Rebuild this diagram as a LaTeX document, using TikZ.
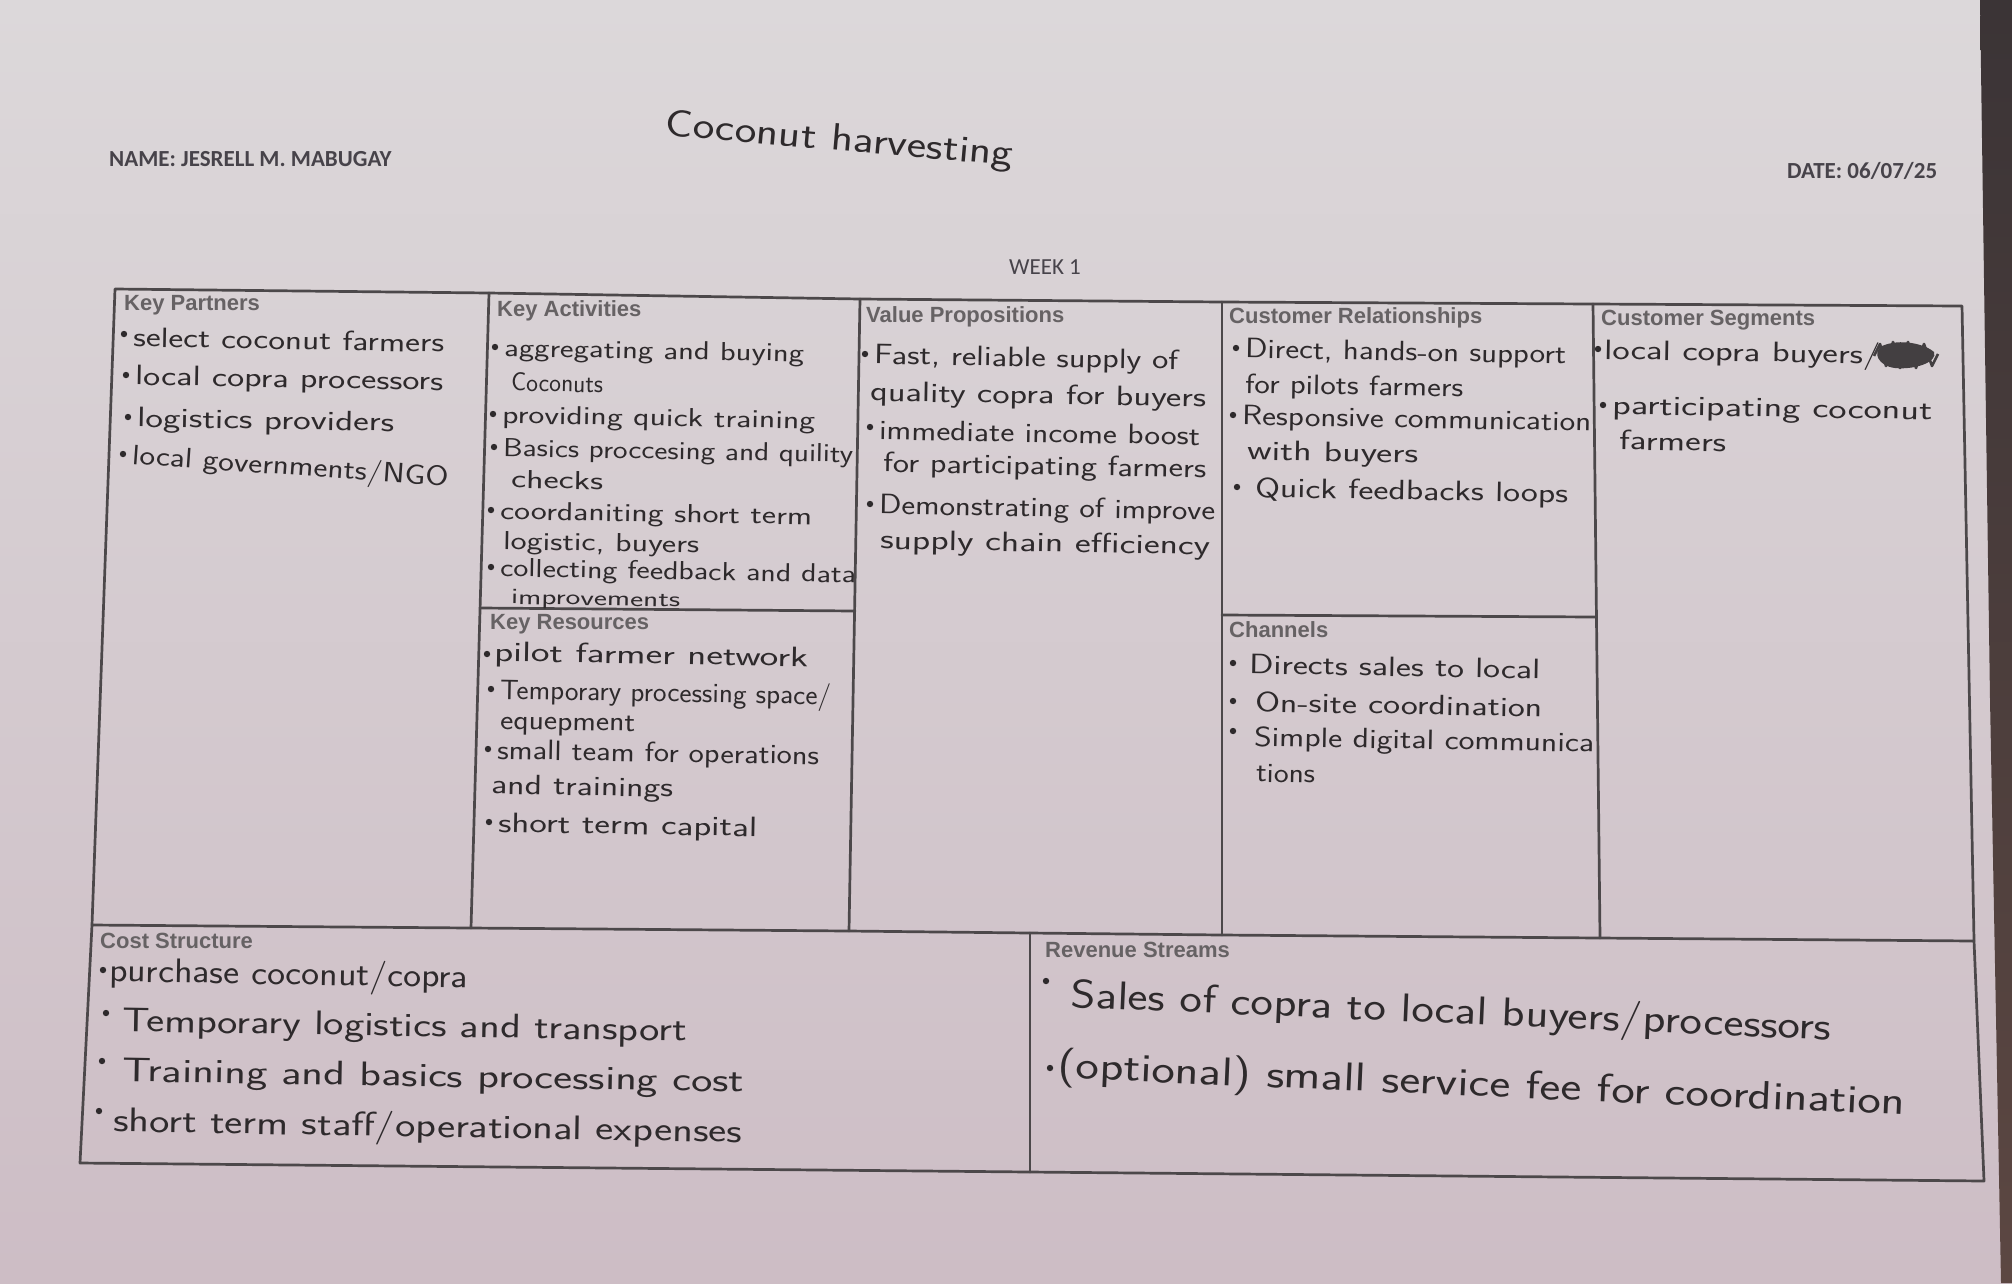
\documentclass[tikz,border=0pt]{standalone}
\usepackage{fontspec}
\usepackage{graphicx}
\newfontfamily\formfont{Carlito}
\newfontfamily\boxfont{Liberation Sans}
\usetikzlibrary{calc}

\definecolor{paperTop}{HTML}{DCD8DA}
\definecolor{paperBottom}{HTML}{CDBDC5}
\definecolor{edgeTop}{HTML}{3B3436}
\definecolor{edgeBottom}{HTML}{5C4742}
\definecolor{linegray}{HTML}{4C484A}
\definecolor{labelgray}{HTML}{666264}
\definecolor{formink}{HTML}{47434A}
\definecolor{ink}{HTML}{2E2A2C}

\newcommand\hwS{\sffamily\fontsize{28}{31}\selectfont}
\newcommand\hwK{\sffamily\fontsize{26}{29}\selectfont}
\newcommand\hwXS{\sffamily\fontsize{22}{25}\selectfont}
\newcommand\hwM{\sffamily\fontsize{34}{38}\selectfont}
\newcommand\hwL{\sffamily\fontsize{40}{44}\selectfont}
\newcommand\hwT{\sffamily\fontsize{38}{42}\selectfont}
% a handwritten line stretched sideways to a given width (pt), height kept
\newcommand\fitw[2]{\resizebox{#1pt}{\height}{#2}}
% bullet dot to the left of a handwritten line
\newcommand\bul[2][(-9,-3)]{\fill[ink] ($(#2.west)+#1$) circle (3.2pt);}

\begin{document}
\begin{tikzpicture}[x=1pt,y=-1pt,
  grid/.style={draw=linegray, line width=2.7pt, line join=round, line cap=round},
  boxlabel/.style={anchor=west, inner sep=0pt, text=labelgray,
    font=\boxfont\bfseries\fontsize{22}{24}\selectfont},
  formlabel/.style={anchor=west, inner sep=0pt, text=formink,
    font=\formfont\bfseries\fontsize{23}{26}\selectfont},
  hand/.style={anchor=west, inner sep=0pt, text=ink, rotate=-1},
  handS/.style={hand, font=\hwS},
  handK/.style={hand, font=\hwK},
  handM/.style={hand, font=\hwM},
  handL/.style={hand, font=\hwL, rotate=-1.5}]

\useasboundingbox (0,0) rectangle (2012,1283);

% paper and the dark table edge on the right
\shade[top color=paperTop, bottom color=paperBottom] (0,0) rectangle (2012,1283);
\shade[top color=edgeTop, bottom color=edgeBottom]
  (1980,0) -- (2012,0) -- (2012,1283) -- (2001,1283) -- (1990,700) -- cycle;

% header
\node[formlabel] (name) at (109,159) {NAME: JESRELL M. MABUGAY};
\node[formlabel] (date) at (1787,171) {DATE: 06/07/25};
\node[inner sep=0pt, text=formink, font=\formfont\fontsize{23}{26}\selectfont] (week) at (1045,267) {WEEK 1};
\node[hand, rotate=-4, font=\hwT] (title) at (665,126) {\fitw{349}{Coconut harvesting}};

% canvas frame
\coordinate (TL) at (115,289);
\coordinate (T1) at (489,293);
\coordinate (T2) at (860,299);
\coordinate (T3) at (1222,302);
\coordinate (T4) at (1593,304);
\coordinate (TR) at (1962,306);
\coordinate (ML) at (92,925);
\coordinate (M1) at (471,928);
\coordinate (M2) at (849,931);
\coordinate (MS) at (1030,933);
\coordinate (M3) at (1222,935);
\coordinate (M4) at (1600,938);
\coordinate (MR) at (1974,941);
\coordinate (BL) at (80,1163);
\coordinate (B1) at (1030,1172);
\coordinate (BR) at (1984,1181);
\coordinate (KRa) at (481,608);
\coordinate (KRb) at (855,611);
\coordinate (CHa) at (1222,615);
\coordinate (CHb) at (1596,617);

\draw[grid] (TL) -- (T1) -- (T2) -- (T3) -- (T4) -- (TR) -- (MR) -- (BR)
  -- (B1) -- (BL) -- (ML) -- cycle;
\draw[grid] (ML) -- (M1) -- (M2) -- (MS) -- (M3) -- (M4) -- (MR);
\draw[grid] (T1) -- (M1);
\draw[grid] (T2) -- (M2);
\draw[grid] (T3) -- (M3);
\draw[grid] (T4) -- (M4);
\draw[grid] (MS) -- (B1);
\draw[grid] (KRa) -- (KRb);
\draw[grid] (CHa) -- (CHb);

% block titles
\node[boxlabel] (kp) at (124,305) {Key Partners};
\node[boxlabel] (ka) at (497,311) {Key Activities};
\node[boxlabel] (vp) at (866,317) {Value Propositions};
\node[boxlabel] (cr) at (1229,318) {Customer Relationships};
\node[boxlabel] (cs) at (1601,320) {Customer Segments};
\node[boxlabel] (kr) at (490,624) {Key Resources};
\node[boxlabel] (ch) at (1229,630) {Channels};
\node[boxlabel] (cst) at (100,941) {Cost Structure};
\node[boxlabel] (rs) at (1045,950) {Revenue Streams};

% Key Partners
\node[handS] (kp1) at (133,337) {\fitw{311}{select coconut farmers}};
\node[handS] (kp2) at (135,378) {\fitw{308}{local copra processors}};
\node[handS] (kp3) at (137,420) {\fitw{257}{logistics providers}};
\node[handS, rotate=-3] (kp4) at (132,457) {\fitw{317}{local governments/NGO}};
\bul{kp1} \bul{kp2} \bul{kp3} \bul{kp4}

% Key Activities
\node[handK] (ka1) at (504,350) {\fitw{300}{aggregating and buying}};
\node[handK] (ka2) at (511,382) {\fitw{92}{Coconuts}};
\node[handK] (ka3) at (502,417) {\fitw{313}{providing quick training}};
\node[handK] (ka4) at (503,450) {\fitw{350}{Basics proccesing and quility}};
\node[handK] (ka5) at (511,479) {\fitw{92}{checks}};
\node[handK] (ka6) at (500,513) {\fitw{312}{coordaniting short term}};
\node[handK] (ka7) at (503,543) {\fitw{196}{logistic, buyers}};
\node[handK] (ka8) at (500,570) {\fitw{356}{collecting feedback and data}};
\node[hand, font=\hwXS] (ka9) at (511,599) {\fitw{169}{improvements}};
\bul{ka1} \bul{ka3} \bul{ka4} \bul{ka6} \bul{ka8}

% Value Propositions
\node[handS] (vp1) at (874,357) {\fitw{304}{Fast, reliable supply of}};
\node[handS] (vp2) at (870,394) {\fitw{336}{quality copra for buyers}};
\node[handS] (vp3) at (879,430) {\fitw{321}{immediate income boost}};
\node[handS] (vp4) at (883,465) {\fitw{323}{for participating farmers}};
\node[handS] (vp5) at (879,507) {\fitw{336}{Demonstrating of improve}};
\node[handS] (vp6) at (880,542) {\fitw{330}{supply chain efficiency}};
\bul{vp1} \bul{vp3} \bul{vp5}

% Customer Relationships
\node[handS] (cr1) at (1245,351) {\fitw{321}{Direct, hands-on support}};
\node[handS] (cr2) at (1245,386) {\fitw{218}{for pilots farmers}};
\node[handS] (cr3) at (1242,418) {\fitw{349}{Responsive communication}};
\node[handS] (cr4) at (1247,453) {\fitw{171}{with buyers}};
\node[handS] (cr5) at (1255,490) {\fitw{313}{Quick feedbacks loops}};
\bul{cr1} \bul{cr3} \bul[(-18,-3)]{cr5}

% Customer Segments
\node[handS] (cs1) at (1604,352) {\fitw{276}{local copra buyers/}};
\node[handS] (cs2) at (1612,408) {\fitw{320}{participating coconut}};
\node[handS] (cs3) at (1619,440) {\fitw{107}{farmers}};
\bul[(-6,-3)]{cs1} \bul{cs2}
% crossed-out word after "buyers/"
\fill[ink!90] (1882,346) .. controls (1900,338) and (1925,344) .. (1934,352)
  .. controls (1938,362) and (1915,370) .. (1895,368)
  .. controls (1878,366) and (1872,352) .. (1882,346) -- cycle;
\draw[ink!90, line width=2.6pt, line join=round]
  (1874,356) -- (1880,344) -- (1886,366) -- (1893,342) -- (1900,368)
  -- (1908,342) -- (1916,368) -- (1924,344) -- (1932,366) -- (1938,354);

% Key Resources
\node[handS] (kr1) at (494,654) {\fitw{314}{pilot farmer network}};
\node[handS] (kr2) at (500,692) {\fitw{331}{Temporary processing space/}};
\node[handS] (kr3) at (500,724) {\fitw{135}{equepment}};
\node[handS] (kr4) at (497,752) {\fitw{322}{small team for operations}};
\node[handS] (kr5) at (491,787) {\fitw{182}{and trainings}};
\node[handS] (kr6) at (498,825) {\fitw{259}{short term capital}};
\bul[(-7,0)]{kr1} \bul{kr2} \bul{kr4} \bul{kr6}

% Channels
\node[handS] (ch1) at (1249,664) {\fitw{291}{Directs sales to local}};
\node[handS] (ch2) at (1255,702) {\fitw{287}{On-site coordination}};
\node[handS] (ch3) at (1254,739) {\fitw{340}{Simple digital communica}};
\node[handS] (ch4) at (1256,773) {\fitw{59}{tions}};
\bul[(-16,-1)]{ch1} \bul[(-22,-1)]{ch2} \bul[(-21,-8)]{ch3}

% Cost Structure
\node[handM] (co1) at (109,973) {\fitw{359}{purchase coconut/copra}};
\node[handM] (co2) at (122,1023) {\fitw{565}{Temporary logistics and transport}};
\node[handM] (co3) at (122,1073) {\fitw{622}{Training and basics processing cost}};
\node[handM] (co4) at (113,1123) {\fitw{629}{short term staff/operational expenses}};
\bul[(-6,-3)]{co1} \bul[(-16,-10)]{co2} \bul[(-20,-12)]{co3} \bul[(-14,-12)]{co4}

% Revenue Streams
\node[handL] (re1) at (1071,997) {\fitw{761}{Sales of copra to local buyers/processors}};
\node[handL] (re2) at (1058,1068) {\fitw{848}{(optional) small service fee for coordination}};
\bul[(-25,-16)]{re1} \bul[(-8,0)]{re2}

\end{tikzpicture}
\end{document}
